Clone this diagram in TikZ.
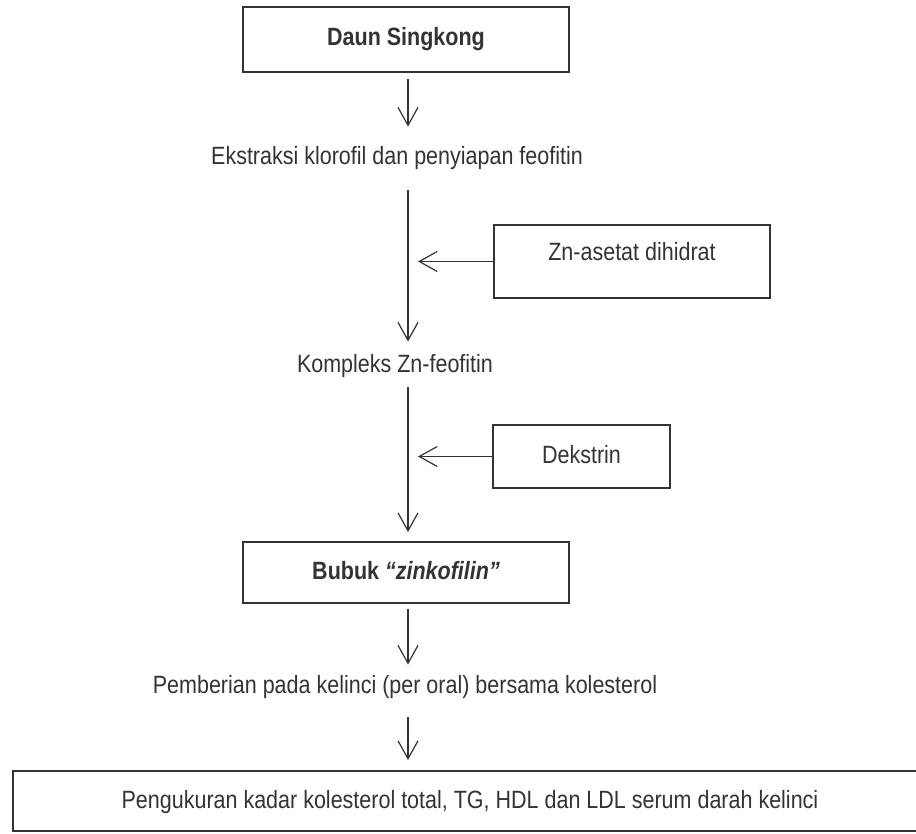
\documentclass[tikz,border=0pt]{standalone}
\usepackage{fontspec}
\setmainfont{Liberation Sans}[FakeStretch=0.86]
\usetikzlibrary{arrows.meta}

\definecolor{ink}{HTML}{333333}

\tikzset{
  box/.style={draw=ink, line width=0.9pt, inner sep=0pt, text height=9pt, text depth=2.5pt},
  lbl/.style={inner sep=0pt, text height=9pt, text depth=2.5pt},
  flow/.style={draw=ink, line width=0.6pt, -{Straight Barb[length=9pt,width=10pt]}},
}

\begin{document}
\begin{tikzpicture}[x=0.5pt, y=-0.5pt, font=\fontsize{12.5}{15}\selectfont, text=ink]
  \useasboundingbox (0,0) rectangle (916,834);
  \clip (0,0) rectangle (916,834);
  \coordinate (spine) at (408,0);
  \coordinate (tip) at (418,0);

  \node[box, minimum width=163pt, minimum height=32.5pt, font=\fontsize{12.5}{15}\selectfont\bfseries] (daun) at (406,39.5) {Daun Singkong};
  \node[lbl] (ekstr) at (397,158.5) {Ekstraksi klorofil dan penyiapan feofitin};
  \node[box, minimum width=138pt, minimum height=36.5pt] (zn) at (632,261.5) {\raisebox{3.5pt}{Zn-asetat dihidrat}};
  \node[lbl] (kompl) at (395,365.5) {Kompleks Zn-feofitin};
  \node[box, minimum width=88.5pt, minimum height=31.5pt] (dekstrin) at (581.5,456.5) {Dekstrin};
  \node[box, minimum width=163pt, minimum height=30.5pt, font=\fontsize{12.5}{15}\selectfont\bfseries] (bubuk) at (406,572.5) {Bubuk \textit{“zinkofilin”}};
  \node[lbl] (beri) at (405,686.5) {Pemberian pada kelinci (per oral) bersama kolesterol};
  \node[box, anchor=north west, minimum width=480pt, minimum height=30pt] (ukur) at (12,770) {};
  \node[lbl] (ukurtext) at (470,801.5) {Pengukuran kadar kolesterol total, TG, HDL dan LDL serum darah kelinci};

  % alur utama
  \draw[flow, shorten <=3pt, shorten >=10pt] (daun.south -| spine) -- (ekstr.north -| spine);
  \draw[flow, shorten <=10pt, shorten >=6pt] (ekstr.south -| spine) -- (kompl.north -| spine);
  \draw[flow, shorten <=5pt, shorten >=4.5pt] (kompl.south -| spine) -- (bubuk.north -| spine);
  \draw[flow, shorten <=2.5pt, shorten >=5pt] (bubuk.south -| spine) -- (beri.north -| spine);
  \draw[flow, shorten <=9.5pt, shorten >=5pt] (beri.south -| spine) -- (ukur.north -| spine);

  % bahan tambahan
  \draw[flow] (zn.west) -- (zn.west -| tip);
  \draw[flow] (dekstrin.west) -- (dekstrin.west -| tip);
\end{tikzpicture}
\end{document}
